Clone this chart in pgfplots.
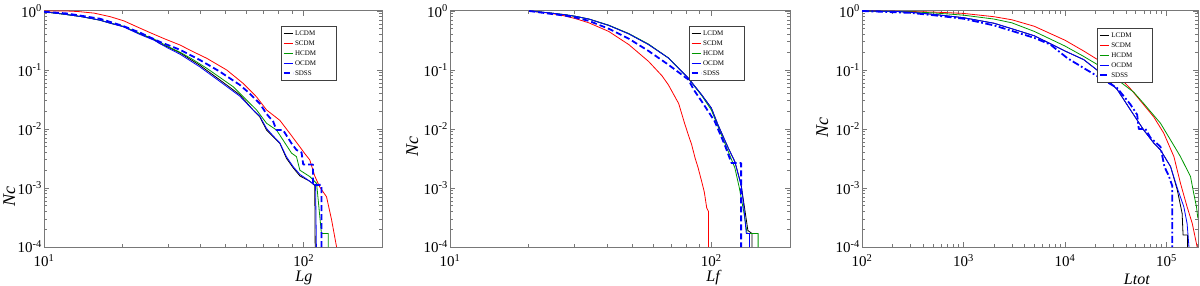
\documentclass[border=0pt]{standalone}
\usepackage{fontspec}
\setmainfont{Liberation Serif}
\usepackage{pgfplots}
\pgfplotsset{compat=1.18}
\definecolor{hgreen}{RGB}{0,150,0}
\definecolor{framegray}{RGB}{120,120,120}
\newcommand{\tp}[1]{10\textsuperscript{#1}}
\newcommand{\lgd}[1]{\makebox[38pt][l]{#1}}
\tikzset{xl/.style={font=\fontsize{16}{18}\selectfont\itshape, anchor=base},
         yl/.style={font=\fontsize{18}{20}\selectfont\itshape, anchor=base}}
\pgfplotsset{
 legend image code/.code={\draw[#1] (0pt,0pt) -- (9pt,0pt);},
 every axis/.append style={
  scale only axis, height=236pt,
  ymin=1e-4, ymax=1,
  ytick={1e-4,1e-3,1e-2,1e-1,1},
  yticklabels={\tp{-4},\tp{-3},\tp{-2},\tp{-1},\tp{0}},
  minor ytick={2e-4,3e-4,4e-4,5e-4,6e-4,7e-4,8e-4,9e-4,2e-3,3e-3,4e-3,5e-3,6e-3,7e-3,8e-3,9e-3,2e-2,3e-2,4e-2,5e-2,6e-2,7e-2,8e-2,9e-2,0.2,0.3,0.4,0.5,0.6,0.7,0.8,0.9},
  tick align=inside,
  major tick length=5pt, minor tick length=3pt,
  every tick/.style={framegray, line width=0.7pt},
  axis line style={framegray, line width=1pt},
  ticklabel style={font=\fontsize{15}{17}\selectfont},
  yticklabel style={inner sep=1pt, xshift=-1pt},
  xticklabel style={inner sep=1pt, yshift=-6pt},
  legend style={draw=black!75, line width=0.6pt, font=\fontsize{7}{8}\selectfont, anchor=north west,
    inner xsep=1.5pt, inner ysep=3.5pt, row sep=3pt,
    nodes={inner xsep=1.5pt, inner ysep=0pt, text height=5.5pt, text depth=1.5pt},
    cells={anchor=west}},
  clip mode=individual,
 },
 every axis plot/.append style={line width=0.8pt, line join=round},
}
\begin{document}
\begin{tikzpicture}
\useasboundingbox (0,0) rectangle (1200pt,286pt);
% ---------------- Panel 1 ----------------
\begin{loglogaxis}[at={(44pt,39pt)}, anchor=south west, width=338pt,
  xmin=10, xmax=200, xtick={10,100}, xticklabels={\tp{1},\tp{2}},
  minor xtick={20,30,40,50,60,70,80,90},
  xlabel={Lg}, ylabel={Nc},
  every axis x label/.style={at={(rel axis cs:0.769,-0.148)}, xl},
  every axis y label/.style={at={(rel axis cs:-0.0858,0.216)}, rotate=90, yl},
  legend style={at={(rel axis cs:0.701,0.936)}}]
\addplot[black, no marks] coordinates {(10,0.97)(12,0.88)(14,0.8)(16.4,0.70)(18,0.62)(20.2,0.545)(23.4,0.41)(26.5,0.33)(27.9,0.28)(30,0.245)(33.4,0.195)(39.8,0.12)(47.5,0.068)(56.7,0.038)(63.8,0.021)(67.7,0.016)(71.9,0.0096)(76.3,0.0074)(80.9,0.0057)(85.7,0.0032)(91,0.0022)(96.6,0.0016)(105.5,0.0013)(110.2,0.0011)(110.6,0.0001)};
\addlegendentry{\lgd{LCDM}}
\addplot[red, no marks] coordinates {(10,1)(12.2,1)(13.5,0.98)(15.6,0.92)(18,0.80)(20.3,0.68)(23,0.53)(25.6,0.43)(29,0.34)(33.4,0.265)(37,0.21)(42.3,0.158)(50.5,0.1)(58.5,0.059)(65.8,0.035)(71.9,0.021)(80.9,0.014)(88.2,0.0085)(96.5,0.005)(101,0.0038)(105.4,0.003)(110.2,0.0016)(115,0.00105)(122.3,0.00071)(127.9,0.00029)(133.7,0.0001)};
\addlegendentry{\lgd{SCDM}}
\addplot[hgreen, no marks] coordinates {(10,0.97)(12,0.88)(14,0.8)(16.4,0.70)(18,0.625)(20.2,0.55)(23.4,0.415)(26.5,0.335)(30,0.25)(33.4,0.2)(37,0.155)(42.3,0.107)(47.5,0.075)(53.5,0.052)(60.2,0.031)(65.8,0.021)(71.9,0.0125)(78.5,0.0096)(83.2,0.0065)(89.7,0.0039)(93.7,0.0034)(96.6,0.002)(105.5,0.00156)(112,0.0012)(113.6,0.00063)(116.9,0.00017)(124.2,0.00017)(124.2,0.0001)};
\addlegendentry{\lgd{HCDM}}
\addplot[blue, no marks] coordinates {(10,0.97)(12,0.88)(14,0.8)(16.4,0.70)(18,0.62)(20.2,0.54)(23.4,0.40)(26.5,0.32)(30,0.235)(33.4,0.185)(39.8,0.113)(47.5,0.064)(56.7,0.036)(63.8,0.021)(67.7,0.0165)(71.9,0.0102)(76.3,0.0076)(80.9,0.0058)(85.7,0.0034)(91,0.0023)(96.6,0.0017)(105.5,0.0013)(111,0.0011)(111.8,0.0001)};
\addlegendentry{\lgd{OCDM}}
\addplot[blue, no marks, line width=1.8pt, dash pattern=on 6pt off 3pt] coordinates {(10,0.97)(12.2,0.91)(16.4,0.74)(20.1,0.56)(23.4,0.43)(27.9,0.30)(33.4,0.22)(39.8,0.148)(47.5,0.094)(56.7,0.056)(61.9,0.04)(67.7,0.027)(71.9,0.018)(76.3,0.0133)(78.5,0.0096)(83.2,0.0096)(89.7,0.0057)(93.8,0.0044)(98,0.004)(99.5,0.0025)(108.5,0.0025)(108.5,0.00113)(117,0.00113)(117,0.0001)};
\addlegendentry{\lgd{SDSS}}
\end{loglogaxis}
% ---------------- Panel 2 ----------------
\begin{loglogaxis}[at={(450pt,39pt)}, anchor=south west, width=340pt,
  xmin=10, xmax=200, xtick={10,100}, xticklabels={\tp{1},\tp{2}},
  minor xtick={20,30,40,50,60,70,80,90},
  xlabel={Lf}, ylabel={Nc},
  every axis x label/.style={at={(rel axis cs:0.774,-0.148)}, xl},
  every axis y label/.style={at={(rel axis cs:-0.094,0.424)}, rotate=90, yl},
  legend style={at={(rel axis cs:0.703,0.936)}}]
\addplot[black, no marks] coordinates {(20.1,1)(24,0.93)(27.8,0.86)(30.3,0.81)(34,0.73)(40.5,0.57)(48.3,0.41)(57.5,0.27)(68.5,0.16)(81.6,0.073)(91.8,0.038)(100,0.0227)(106,0.0118)(116,0.0048)(123,0.0028)(130,0.00114)(134,0.00046)(138,0.00019)(143,0.00017)(143,0.0001)};
\addlegendentry{\lgd{LCDM}}
\addplot[red, no marks] coordinates {(20.1,1)(24,0.92)(27,0.84)(30.3,0.74)(34,0.63)(40.5,0.45)(48.3,0.27)(57.5,0.14)(64.7,0.08)(68.5,0.056)(75,0.027)(79,0.0125)(82,0.0075)(84,0.0055)(86.7,0.0032)(89,0.0022)(91.8,0.0013)(94,0.00085)(96,0.00046)(97.5,0.0004)(97.5,0.0001)};
\addlegendentry{\lgd{SCDM}}
\addplot[hgreen, no marks] coordinates {(20.1,1)(24,0.93)(27.8,0.86)(30.3,0.81)(34,0.73)(40.5,0.575)(48.3,0.415)(57.5,0.275)(68.5,0.16)(81.6,0.072)(91.8,0.037)(100,0.021)(106,0.011)(116,0.0042)(123,0.0022)(128,0.001)(133,0.0004)(137,0.00017)(151,0.00017)(151,0.0001)};
\addlegendentry{\lgd{HCDM}}
\addplot[blue, no marks] coordinates {(20.1,1)(24,0.93)(27.8,0.86)(30.3,0.81)(34,0.73)(40.5,0.57)(48.3,0.41)(57.5,0.27)(68.5,0.16)(81.6,0.073)(91.8,0.038)(100,0.0227)(106,0.0118)(116,0.0048)(123,0.0028)(130,0.0011)(133,0.0005)(136,0.00017)(140,0.00017)(140,0.0001)};
\addlegendentry{\lgd{OCDM}}
\addplot[blue, no marks, line width=1.8pt, dash pattern=on 6pt off 3pt] coordinates {(20.1,1)(24,0.9)(27.8,0.83)(30.3,0.77)(34,0.68)(40.5,0.5)(48.3,0.34)(57.5,0.21)(68.5,0.123)(81.6,0.069)(86,0.045)(91.8,0.0295)(103,0.0135)(112.5,0.0054)(119.4,0.00265)(128.5,0.00265)(130,0.00265)(130,0.0001)};
\addlegendentry{\lgd{SDSS}}
\end{loglogaxis}
% ---------------- Panel 3 ----------------
\begin{loglogaxis}[at={(862pt,39pt)}, anchor=south west, width=336pt,
  xmin=100, xmax=2.05e5, xtick={100,1000,1e4,1e5}, xticklabels={\tp{2},\tp{3},\tp{4},\tp{5}},
  minor xtick={200,300,400,500,600,700,800,900,2000,3000,4000,5000,6000,7000,8000,9000,2e4,3e4,4e4,5e4,6e4,7e4,8e4,9e4,2e5},
  xlabel={Ltot}, ylabel={Nc},
  every axis x label/.style={at={(rel axis cs:0.818,-0.157)}, xl},
  every axis y label/.style={at={(rel axis cs:-0.101,0.508)}, rotate=90, yl},
  legend style={at={(rel axis cs:0.70,0.928)}}]
\addplot[black, no marks] coordinates {(100,1)(200,0.99)(300,0.95)(500,0.88)(1000,0.77)(2000,0.62)(3000,0.50)(5000,0.38)(10000,0.21)(15300,0.15)(22400,0.09)(32700,0.047)(44300,0.021)(59800,0.0096)(75000,0.0058)(87500,0.0044)(110000,0.0023)(128000,0.00093)(143000,0.00037)(146000,0.00016)(162000,0.00016)(162000,0.0001)};
\addlegendentry{\lgd{LCDM}}
\addplot[red, no marks] coordinates {(100,1)(300,0.98)(500,0.96)(1000,0.91)(2000,0.80)(3000,0.71)(5000,0.55)(10000,0.32)(15300,0.21)(22400,0.14)(32700,0.083)(44300,0.048)(75100,0.016)(94200,0.0085)(118600,0.0034)(137700,0.0012)(160000,0.00048)(180000,0.00025)(201000,0.0001)};
\addlegendentry{\lgd{SCDM}}
\addplot[hgreen, no marks] coordinates {(100,1)(300,0.97)(500,0.93)(1000,0.85)(2000,0.73)(3000,0.63)(5000,0.45)(10000,0.255)(15300,0.17)(22400,0.115)(32700,0.069)(47700,0.042)(59800,0.027)(87500,0.0125)(110000,0.0065)(137700,0.0034)(173000,0.00156)(186000,0.00081)(198000,0.00048)(204000,0.00031)(210000,0.00031)};
\addlegendentry{\lgd{HCDM}}
\addplot[blue, no marks] coordinates {(100,1)(200,0.99)(300,0.95)(500,0.88)(1000,0.77)(2000,0.62)(3000,0.50)(5000,0.38)(10000,0.21)(15300,0.15)(22400,0.09)(32700,0.047)(44300,0.021)(59800,0.0096)(75000,0.0058)(87500,0.0044)(110000,0.0023)(128000,0.001)(148600,0.00048)(160000,0.00025)(167000,0.0001)};
\addlegendentry{\lgd{OCDM}}
\addplot[blue, no marks, line width=1.8pt, dash pattern=on 7pt off 2.5pt on 1.8pt off 2.5pt] coordinates {(100,1)(300,0.93)(500,0.85)(1000,0.74)(2000,0.57)(3000,0.46)(5000,0.35)(7180,0.27)(10500,0.16)(15300,0.108)(22400,0.073)(32700,0.0495)(44300,0.026)(51500,0.0175)(53500,0.01)(62200,0.01)(69700,0.0071)(87500,0.005)(95600,0.0023)(105700,0.0016)(114000,0.0011)(114000,0.0001)};
\addlegendentry{\lgd{SDSS}}
\end{loglogaxis}
\end{tikzpicture}
\end{document}
